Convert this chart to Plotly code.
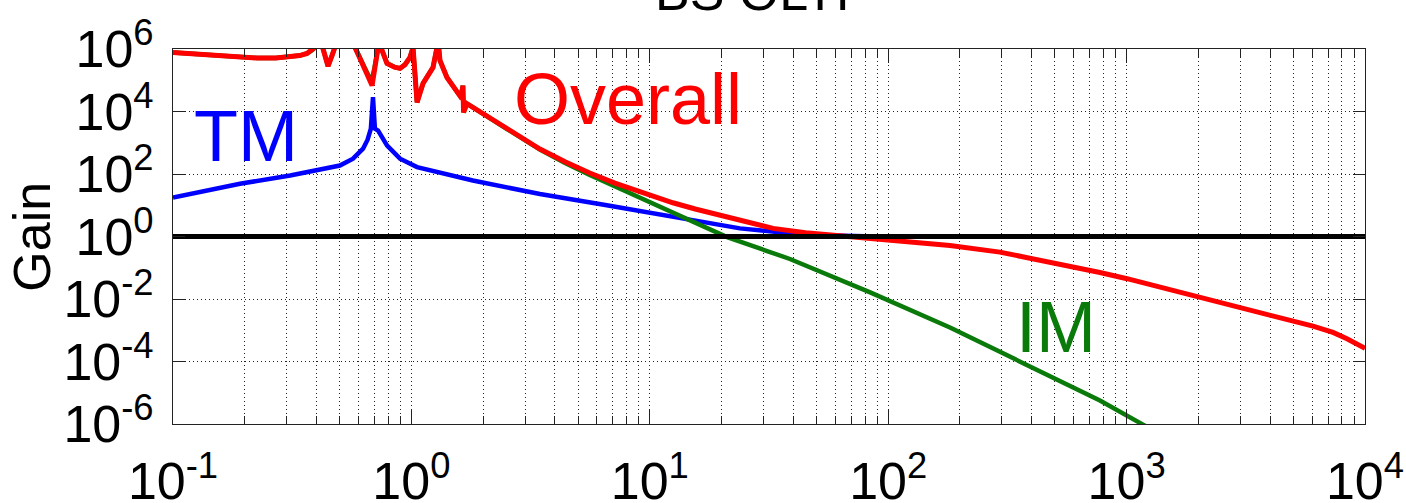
import math
import plotly.graph_objects as go

# ---------------- data ----------------
overall_f = [0.1, 0.125, 0.15, 0.18, 0.225, 0.27, 0.31, 0.34, 0.365, 0.385, 0.40,
             0.415, 0.43, 0.447, 0.465, 0.48, 0.50, 0.55, 0.58, 0.62, 0.66, 0.684,
             0.70, 0.725, 0.745, 0.765, 0.79, 0.85, 0.896, 0.94, 0.986, 1.016,
             1.056, 1.119, 1.232, 1.28, 1.30, 1.318, 1.41, 1.598, 1.625, 1.645,
             1.655, 1.71, 1.995, 2.517, 3.46, 4.41, 5.6, 7.14, 9.1, 12.5, 15.5,
             19.7, 26, 32.9, 45, 62, 100, 181.6, 294, 526, 773, 1004, 1974, 2990,
             3994, 4984, 6050, 7340, 8400, 10000]
overall_log = [5.89, 5.84, 5.79, 5.75, 5.71, 5.71, 5.74, 5.79, 5.86, 5.97, 6.1,
               6.3, 5.9, 5.45, 5.8, 6.1, 6.3, 6.4, 6.05, 5.6, 5.1, 4.83,
               5.4, 6.05, 6.05, 5.8, 5.54, 5.42, 5.38, 5.5, 5.73, 6.05,
               4.29, 4.9, 5.41, 6.05, 6.1, 5.63, 5.09, 4.5, 4.6, 4.83,
               3.97, 4.25, 3.94, 3.44, 2.80, 2.39, 2.03, 1.71, 1.42, 1.08, 0.88,
               0.67, 0.44, 0.26, 0.12, 0.03, -0.14, -0.29, -0.50, -0.87, -1.15, -1.35, -1.92, -2.26,
               -2.49, -2.68, -2.87, -3.07, -3.27, -3.58]

tm_f = [0.1, 0.191, 0.31, 0.402, 0.501, 0.569, 0.627, 0.655, 0.676, 0.69, 0.703,
        0.725, 0.76, 0.791, 0.896, 1.056, 1.81, 3.46, 6.6, 12.5, 23.9, 38.7,
        53, 80, 100, 1000, 10000]
tm_log = [1.25, 1.69, 1.95, 2.11, 2.27, 2.49, 2.81, 3.1, 3.45, 4.46, 3.45,
          3.39, 3.12, 2.91, 2.49, 2.22, 1.79, 1.36, 1.0, 0.62, 0.26, 0.10,
          0.04, 0.01, 0.0, 0.0, 0.0]

im_f = [0.1, 0.125, 0.15, 0.18, 0.225, 0.27, 0.31, 0.34, 0.365, 0.385, 0.40,
        0.415, 0.43, 0.447, 0.465, 0.48, 0.50, 0.55, 0.58, 0.62, 0.66, 0.68,
        0.70, 0.725, 0.745, 0.765, 0.79, 0.85, 0.896, 0.94, 0.986, 1.016,
        1.056, 1.119, 1.232, 1.28, 1.30, 1.318, 1.41, 1.598, 1.625, 1.645,
        1.655, 1.71, 1.995, 2.517, 3.46, 4.41, 5.6, 7.14, 9.1, 12.5, 16,
        21.1, 38.7, 84, 181.6, 393, 773, 1172, 2032]
im_log = [5.89, 5.84, 5.79, 5.75, 5.71, 5.71, 5.74, 5.79, 5.86, 5.97, 6.1,
          6.3, 5.9, 5.45, 5.8, 6.1, 6.3, 6.4, 6.05, 5.6, 5.1, 4.95,
          5.4, 6.05, 6.05, 5.8, 5.54, 5.42, 5.38, 5.5, 5.73, 6.05,
          4.29, 4.9, 5.41, 6.05, 6.1, 5.63, 5.09, 4.5, 4.6, 4.83,
          3.97, 4.25, 3.94, 3.44, 2.78, 2.35, 1.97, 1.61, 1.26, 0.78, 0.42,
          -0.02, -0.72, -1.79, -2.91, -4.16, -5.25, -6.02, -7.04]

unity_f = [0.1, 10000]
unity_gain = [1, 1]

x_tickvals = [0.1, 1, 10, 100, 1000, 10000]
x_ticktext = ["10<sup>-1</sup>", "10<sup>0</sup>", "10<sup>1</sup>",
              "10<sup>2</sup>", "10<sup>3</sup>", "10<sup>4</sup>"]
y_tickvals = [1e-6, 1e-4, 1e-2, 1, 1e2, 1e4, 1e6]
y_ticktext = ["10<sup>-6</sup>", "10<sup>-4</sup>", "10<sup>-2</sup>", "10<sup>0</sup>",
              "10<sup>2</sup>", "10<sup>4</sup>", "10<sup>6</sup>"]

title_text = "BS OLTF"
y_title = "Gain"
labels = [("TM", 0.203, 3.23, "#0000FF"),
          ("Overall", 8.1, 4.41, "#FF0000"),
          ("IM", 505, -2.88, "#0A7A0A")]

# ---------------- figure ----------------
FONT = "Liberation Sans, Arial, Helvetica, sans-serif"

fig = go.Figure()
fig.add_trace(go.Scatter(x=tm_f, y=[10 ** v for v in tm_log], mode="lines",
                         line=dict(color="#0000FF", width=4.5), name="TM"))
fig.add_trace(go.Scatter(x=im_f, y=[10 ** v for v in im_log], mode="lines",
                         line=dict(color="#0A7A0A", width=4.5), name="IM"))
fig.add_trace(go.Scatter(x=overall_f, y=[10 ** v for v in overall_log], mode="lines",
                         line=dict(color="#FF0000", width=5), name="Overall"))
fig.add_trace(go.Scatter(x=unity_f, y=unity_gain, mode="lines",
                         line=dict(color="#000000", width=5), name="unity"))

grid_col = "#222222"
fig.update_xaxes(
    type="log", range=[-1, 4], automargin=False,
    tickmode="array", tickvals=x_tickvals, ticktext=x_ticktext,
    ticks="inside", ticklen=14, tickwidth=1, tickcolor="#222222",
    showline=True, linecolor="#222222", linewidth=1, mirror="allticks",
    showgrid=True, gridcolor=grid_col, gridwidth=1, griddash="1px,3px",
    minor=dict(dtick="D1", ticks="inside", ticklen=8, tickcolor="#222222",
               showgrid=True, gridcolor=grid_col, gridwidth=1, griddash="1px,3px"),
    tickfont=dict(family=FONT, size=52, color="black"),
    ticklabelstandoff=12,
    zeroline=False,
)
fig.update_yaxes(
    type="log", range=[-6, 6], automargin=False,
    tickmode="array", tickvals=y_tickvals, ticktext=y_ticktext,
    ticks="inside", ticklen=12, tickwidth=1, tickcolor="#222222",
    showline=True, linecolor="#222222", linewidth=1, mirror="allticks",
    showgrid=True, gridcolor=grid_col, gridwidth=1, griddash="1px,3px",
    tickfont=dict(family=FONT, size=52, color="black"),
    ticklabelstandoff=8,
    zeroline=False,
)

annotations = []
for txt, xv, ylog, col in labels:
    annotations.append(dict(x=math.log10(xv), y=ylog, xref="x", yref="y",
                            text=txt, showarrow=False,
                            font=dict(family=FONT, size=72, color=col),
                            xanchor="center", yanchor="middle"))
annotations.append(dict(x=0.494, y=1, xref="paper", yref="paper", text=title_text,
                        showarrow=False, xanchor="center", yanchor="bottom", yshift=26,
                        font=dict(family=FONT, size=52, color="black")))
annotations.append(dict(x=-0.119, y=0.5, xref="paper", yref="paper", text=y_title,
                        showarrow=False, textangle=-90, xanchor="center", yanchor="middle",
                        font=dict(family=FONT, size=52, color="black")))

fig.update_layout(
    width=1406, height=503,
    margin=dict(l=173, r=41, t=49, b=79, autoexpand=False),
    paper_bgcolor="white", plot_bgcolor="white",
    showlegend=False,
    annotations=annotations,
)

fig.write_html("out.html", config={"displayModeBar": False},
               post_script="document.body.style.margin='0';document.body.style.overflow='hidden';")
